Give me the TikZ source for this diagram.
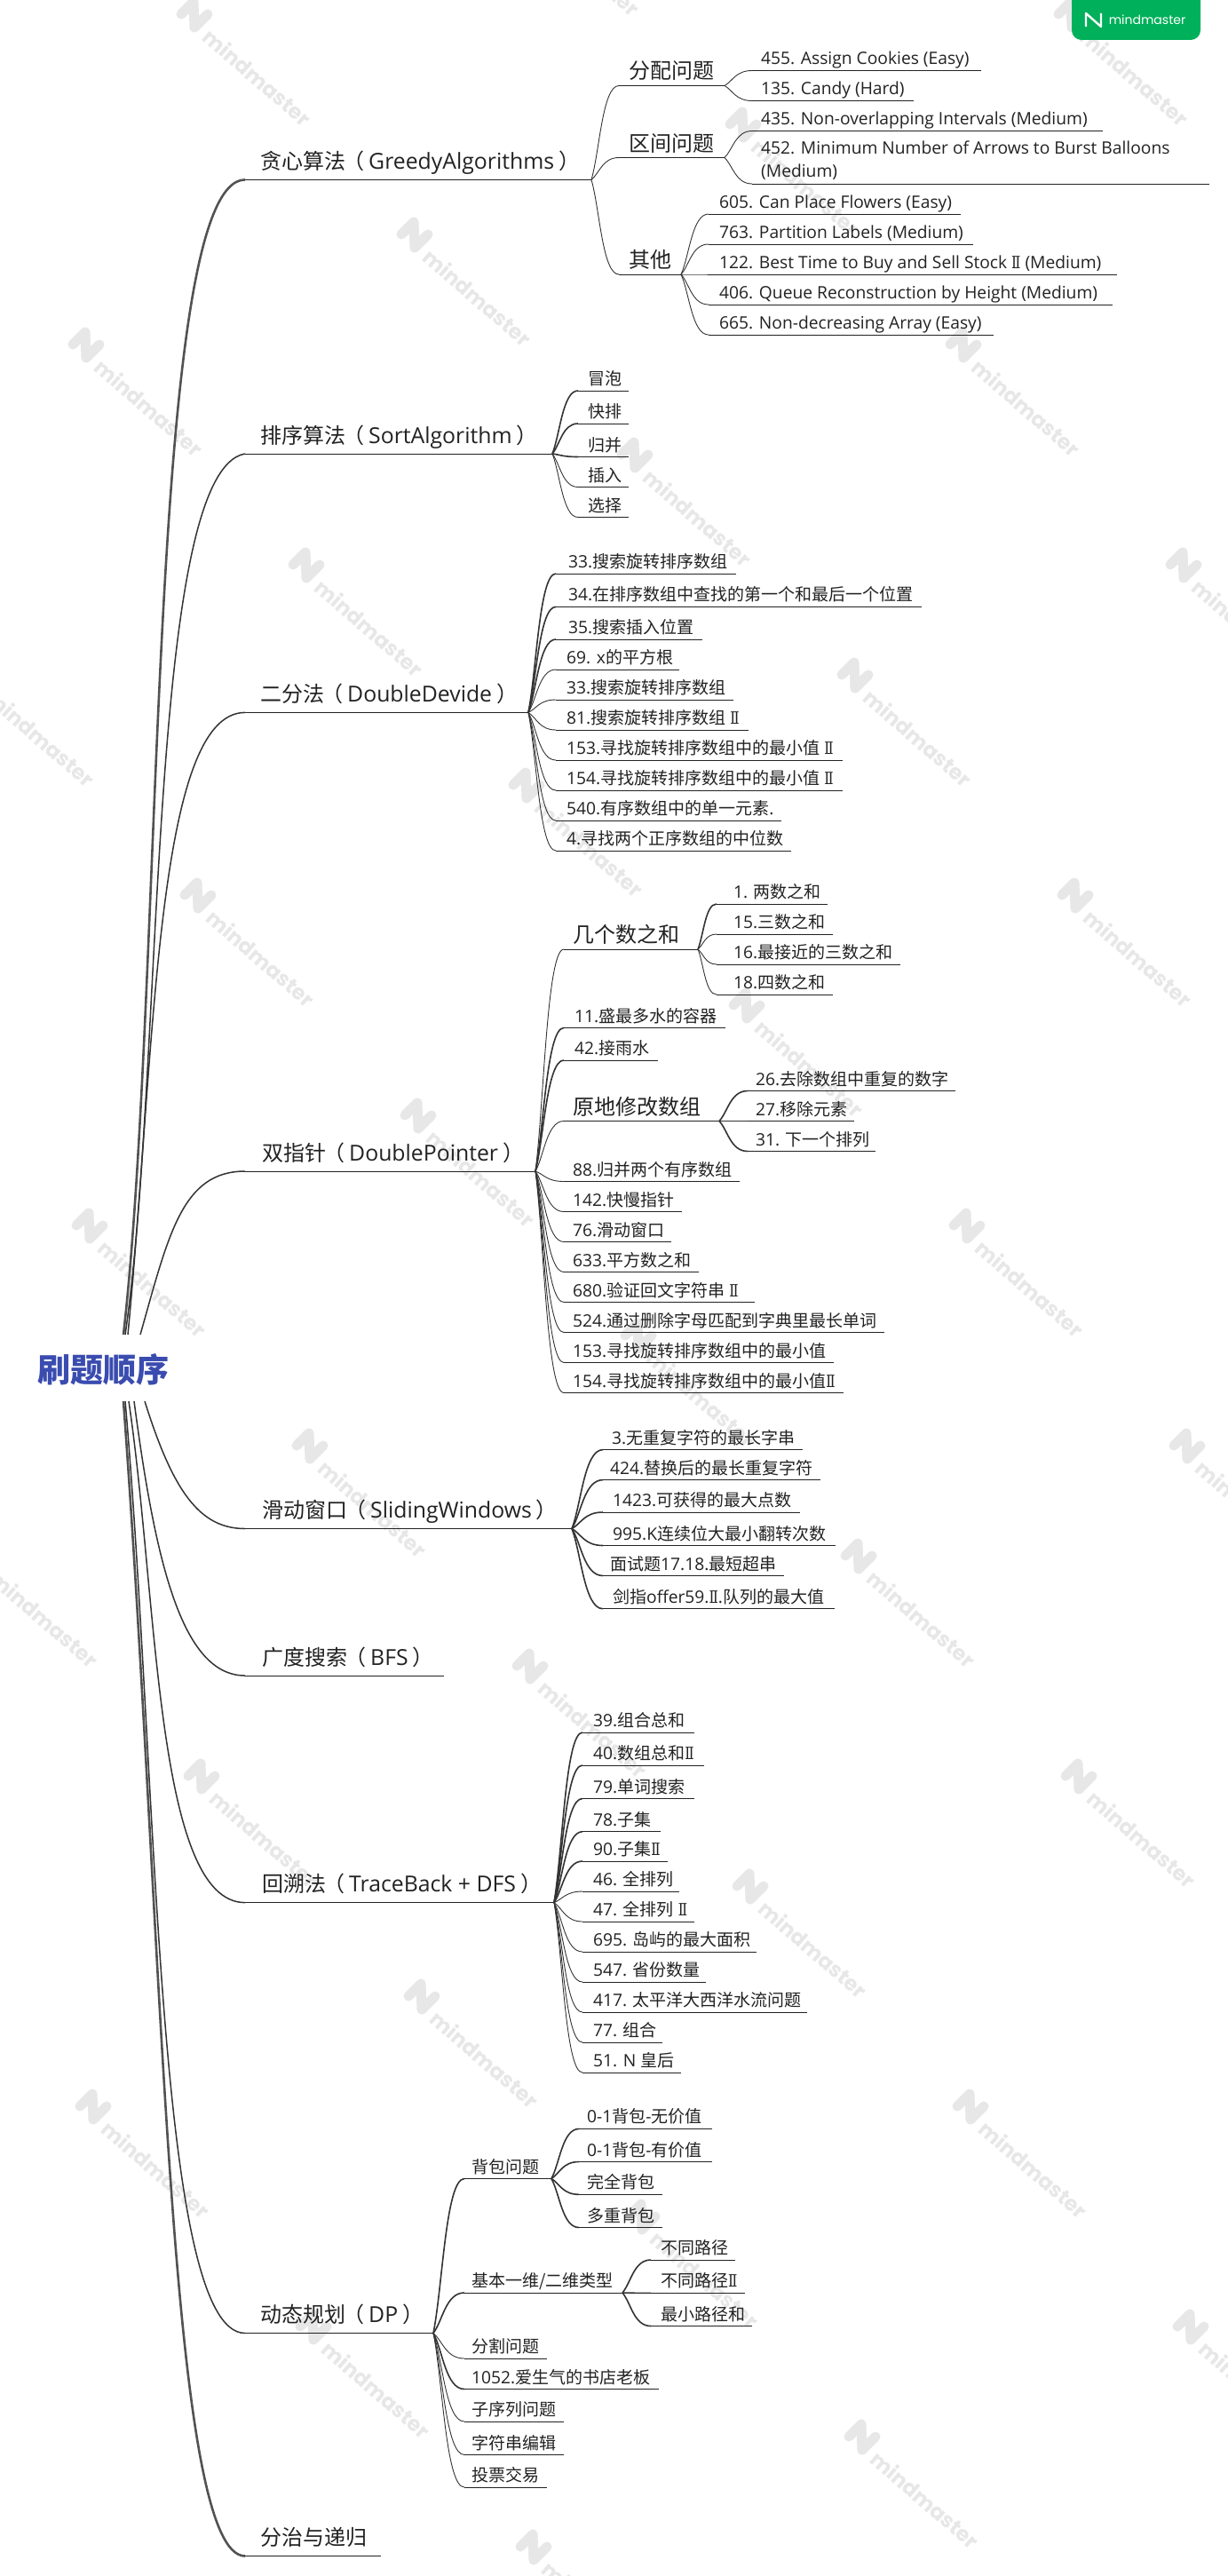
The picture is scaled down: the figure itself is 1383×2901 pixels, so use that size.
\documentclass[tikz,border=0pt]{standalone}
\usepackage{fontspec}
\usetikzlibrary{calc}
\setmainfont{Open Sans}[Scale=1.012]
\newfontfamily\cjk{Noto Sans CJK SC}
\newfontfamily\wmfont{Poppins}
\newfontfamily\rmn{DejaVu Serif}
\newcommand{\C}[1]{{\cjk #1}}
\newcommand{\R}{{\rmn\scalebox{.8}[1]{Ⅱ}}}
\newcommand{\LP}{\kern-3pt\C{（}\kern5pt}
\newcommand{\RP}{\kern5pt\C{）}}
\newcommand{\Gt}[1]{{\fontsize{24.5}{29}\selectfont #1}}
\definecolor{ink}{HTML}{222222}
\definecolor{wire}{HTML}{333333}
\definecolor{wm}{HTML}{E7E7E7}
\definecolor{badge}{HTML}{00B05A}
\definecolor{rootblue}{HTML}{3A4CAF}
\tikzset{
  rule/.style={line width=1pt,draw=ink},
  lk/.style={line width=.9pt,draw=wire},
  lkb/.style={line width=1.6pt,draw=wire},
  trunk/.style={line width=1.5pt,draw=wire},
  trunkb/.style={line width=2.6pt,draw=wire!85!white},
  leaftxt/.style={font=\fontsize{19}{23}\selectfont,text=ink,anchor=base west,inner sep=0pt,yshift=6.5pt},
  midtxt/.style={font=\fontsize{24}{29}\selectfont,text=ink,anchor=base west,inner sep=0pt,yshift=7.5pt},
  toptxt/.style={font=\fontsize{24}{29}\selectfont,text=ink,anchor=base west,inner sep=0pt,yshift=12pt},
}
\newcommand{\itm}[9][lk]{%
  \coordinate (#2-s) at (#5,#6);
  \coordinate (#2-e) at (#7,#6);
  \node[#4] (#2) at (#8,#6) {#9};
  \draw[rule] (#2-s) -- (#2-e);
  \draw[#1] let \p1=(#3-e),\p2=(#2-s) in (#3-e) .. controls ({\x1+.3*(\x2-\x1)},{\y1+.3*(\y2-\y1)}) and ({\x1+.4*(\x2-\x1)},\y2) .. (#2-s);
}
\newcommand{\lf}[8][lk]{\itm[#1]{#2}{#3}{leaftxt}{#4}{#5}{#6}{#7}{#8}}
\newcommand{\md}[8][lk]{\itm[#1]{#2}{#3}{midtxt}{#4}{#5}{#6}{#7}{#8}}
\newcommand{\topic}[5]{%
  \coordinate (#1-s) at (276,#2);
  \coordinate (#1-e) at (#3,#2);
  \node[toptxt] (#1) at (#4,#2) {#5};
  \draw[rule] (#1-s) -- (#1-e);
}
\begin{document}
\begin{tikzpicture}[x=1pt,y=-1pt]
\useasboundingbox (0,0) rectangle (1383,2901);
\fill[white] (0,0) rectangle (1383,2901);
\begin{scope}
\clip (0,0) rectangle (1383,2901);
% watermark lattice
\foreach \i in {-4,...,12}{
 \foreach \j in {-4,...,7}{
  \pgfmathsetmacro{\wx}{97+248*\i+370*\j}
  \pgfmathsetmacro{\wy}{388+248*\i-124*\j}
  \pgfmathparse{(\wx>-260 && \wx<1500 && \wy>-220 && \wy<3000) ? 1 : 0}
  \ifnum\pgfmathresult=1
   \begin{scope}[shift={(\wx,\wy)}]
    \draw[wm,line width=11pt,line join=round,line cap=round] (-15,0) -- (-1,-14) -- (0,15) -- (15,0);
   \end{scope}
   \node[text=wm,font=\wmfont\bfseries\fontsize{23.5}{28}\selectfont,rotate=-41,inner sep=0pt] (wm\i\j) at (\wx+71,\wy+71) {mindmaster};
  \fi
 }
}
\fill[badge,rounded corners=11pt] (1207,-20) rectangle (1352,45);
\end{scope}
\draw[white,line width=2.4pt,line join=round] (1223,30) -- (1223,15) -- (1240,30) -- (1240,15);
\node[text=white,font=\wmfont\fontsize{14}{18}\selectfont,inner sep=0pt] (badgetxt) at (1292,22) {mindmaster};

% root
\node[font=\cjk\bfseries\fontsize{37}{42}\selectfont,text=rootblue,inner sep=0pt] (root) at (116.5,1542) {刷题顺序};
\coordinate (rA) at (139,1503);
\coordinate (rB) at (141,1503);
\coordinate (rC) at (144,1503);
\coordinate (rD) at (158,1503);
\coordinate (rE) at (163,1578);
\coordinate (rF) at (151,1578);
\coordinate (rG) at (145,1578);
\coordinate (rH) at (141,1578);
\coordinate (rI) at (139,1578);

% greedy
\topic{g}{202.4}{666}{293}{\C{贪心算法}\LP\Gt{GreedyAlgorithms}\RP}
\draw[trunkb] (rA) .. controls (185,1100) and (165,202.4) .. (g-s);
\md{ga}{g}{697}{96.5}{816}{708}{\C{分配问题}}
\md{gb}{g}{697}{177.5}{816}{708}{\C{区间问题}}
\md{gc}{g}{697}{309}{767}{708}{\C{其他}}
\lf{ga1}{ga}{847}{79.5}{1105}{857}{455. Assign Cookies (Easy)}
\lf{ga2}{ga}{847}{113.5}{1029}{857}{135. Candy (Hard)}
\lf{gb1}{gb}{847}{147.5}{1242}{857}{435. Non-overlapping Intervals (Medium)}
\coordinate (gb2-s) at (847,207);
\coordinate (gb2-e) at (1362,207);
\node[font=\fontsize{19}{26}\selectfont,text=ink,anchor=west,inner sep=0pt,align=left] (gb2) at (857,181) {452. Minimum Number of Arrows to Burst Balloons\\(Medium)};
\draw[rule] (gb2-s) -- (gb2-e);
\draw[lk] let \p1=(gb-e),\p2=(gb2-s) in (gb-e) .. controls ({\x1+.3*(\x2-\x1)},{\y1+.3*(\y2-\y1)}) and ({\x1+.4*(\x2-\x1)},\y2) .. (gb2-s);
\lf{gc1}{gc}{798}{241}{1082}{810}{605. Can Place Flowers (Easy)}
\lf{gc2}{gc}{798}{275}{1096}{810}{763. Partition Labels (Medium)}
\lf{gc3}{gc}{798}{309}{1258}{810}{122. Best Time to Buy and Sell Stock \R{} (Medium)}
\lf{gc4}{gc}{798}{343}{1253}{810}{406. Queue Reconstruction by Height (Medium)}
\lf{gc5}{gc}{798}{377}{1119}{810}{665. Non-decreasing Array (Easy)}

% sort
\topic{s}{511}{622}{293}{\C{排序算法}\LP\Gt{SortAlgorithm}\RP}
\draw[trunk] (rB) .. controls (185,1200) and (165,530) .. (s-s);
\lf[lkb]{s1}{s}{651}{440}{708}{662}{\C{冒泡}}
\lf[lkb]{s2}{s}{651}{477}{708}{662}{\C{快排}}
\lf[lkb]{s3}{s}{651}{514.5}{708}{662}{\C{归并}}
\lf{s4}{s}{651}{548.5}{708}{662}{\C{插入}}
\lf{s5}{s}{651}{582.5}{708}{662}{\C{选择}}

% divide
\topic{d}{802.4}{595}{293}{\C{二分法}\LP\Gt{DoubleDevide}\RP}
\draw[trunk] (rC) .. controls (175,1180) and (175,802.4) .. (d-s);
\lf[lkb]{d1}{d}{626}{646}{829}{640}{33.\C{搜索旋转排序数组}}
\lf[lkb]{d2}{d}{626}{683.4}{1038}{640}{34.\C{在排序数组中查找的第一个和最后一个位置}}
\lf[lkb]{d3}{d}{626}{720}{791}{640}{35.\C{搜索插入位置}}
\lf{d4}{d}{626}{754}{765}{638}{69. x\C{的平方根}}
\lf{d5}{d}{626}{788}{826}{638}{33.\C{搜索旋转排序数组}}
\lf{d6}{d}{626}{822}{843}{638}{81.\C{搜索旋转排序数组} \R}
\lf{d7}{d}{626}{856}{949}{638}{153.\C{寻找旋转排序数组中的最小值} \R}
\lf{d8}{d}{626}{890}{949}{638}{154.\C{寻找旋转排序数组中的最小值} \R}
\lf{d9}{d}{626}{924}{880}{638}{540.\C{有序数组中的单一元素}.}
\lf{d10}{d}{626}{958}{891}{638}{4.\C{寻找两个正序数组的中位数}}

% double pointer
\topic{p}{1319}{603}{295}{\C{双指针}\LP\Gt{DoublePointer}\RP}
\draw[trunk] (rD) .. controls (190,1390) and (205,1319) .. (p-s);
\md{pa}{p}{635}{1069}{786}{645}{\C{几个数之和}}
\lf[lkb]{pa1}{pa}{807}{1018}{932}{826}{1. \C{两数之和}}
\lf{pa2}{pa}{807}{1052}{938}{826}{15.\C{三数之和}}
\lf{pa3}{pa}{807}{1086}{1014}{826}{16.\C{最接近的三数之和}}
\lf{pa4}{pa}{807}{1120}{938}{826}{18.\C{四数之和}}
\lf[lkb]{pb}{p}{635}{1157.5}{817}{647}{11.\C{盛最多水的容器}}
\lf[lkb]{pc}{p}{635}{1194}{741}{647}{42.\C{接雨水}}
\md{pd}{p}{635}{1262.5}{810}{645}{\C{原地修改数组}}
\lf[lkb]{pd1}{pd}{842}{1228.5}{1076}{851}{26.\C{去除数组中重复的数字}}
\lf{pd2}{pd}{842}{1262.5}{962}{851}{27.\C{移除元素}}
\lf[lkb]{pd3}{pd}{842}{1296.5}{986}{851}{31. \C{下一个排列}}
\lf{pe}{p}{635}{1330.5}{833}{645}{88.\C{归并两个有序数组}}
\lf{pf}{p}{635}{1364.5}{768}{645}{142.\C{快慢指针}}
\lf{pg}{p}{635}{1398.5}{756}{645}{76.\C{滑动窗口}}
\lf{ph}{p}{635}{1432.5}{787}{645}{633.\C{平方数之和}}
\lf{pi}{p}{635}{1466.5}{850}{645}{680.\C{验证回文字符串} \R}
\lf{pj}{p}{635}{1500.5}{996}{645}{524.\C{通过删除字母匹配到字典里最长单词}}
\lf{pk}{p}{635}{1534.5}{939}{645}{153.\C{寻找旋转排序数组中的最小值}}
\lf{pl}{p}{635}{1568.5}{950}{645}{154.\C{寻找旋转排序数组中的最小值}\R}

% sliding
\topic{w}{1721.5}{644}{295}{\C{滑动窗口}\LP\Gt{SlidingWindows}\RP}
\draw[trunk] (rE) .. controls (195,1680) and (225,1721.5) .. (w-s);
\lf[lkb]{w1}{w}{679}{1632.6}{904}{689}{3.\C{无重复字符的最长字串}}
\lf[lkb]{w2}{w}{679}{1666.6}{924}{687}{424.\C{替换后的最长重复字符}}
\lf[lkb]{w3}{w}{679}{1703}{901}{690}{1423.\C{可获得的最大点数}}
\lf[lkb]{w4}{w}{679}{1740.5}{941}{690}{995.K\C{连续位大最小翻转次数}}
\lf[lkb]{w5}{w}{679}{1774.5}{883}{687}{\C{面试题}17.18.\C{最短超串}}
\lf[lkb]{w6}{w}{679}{1811.7}{940}{690}{\C{剑指}offer59.\R.\C{队列的最大值}}

% BFS
\topic{b}{1887}{500}{295}{\C{广度搜索}\LP\Gt{BFS}\RP}
\draw[trunk] (rF) .. controls (175,1760) and (205,1887) .. (b-s);

% traceback
\topic{t}{2142.6}{624}{295}{\C{回溯法}\LP\Gt{TraceBack + DFS}\RP}
\draw[trunk] (rG) .. controls (178,1800) and (175,2142.6) .. (t-s);
\lf[lkb]{t1}{t}{656}{1951}{782}{668}{39.\C{组合总和}}
\lf[lkb]{t2}{t}{656}{1988}{793}{668}{40.\C{数组总和}\R}
\lf[lkb]{t3}{t}{656}{2025.5}{782}{668}{79.\C{单词搜索}}
\lf[lkb]{t4}{t}{656}{2062.7}{744}{668}{78.\C{子集}}
\lf[lkb]{t5}{t}{656}{2096}{752}{668}{90.\C{子集}\R}
\lf{t6}{t}{656}{2130}{765}{668}{46. \C{全排列}}
\lf{t7}{t}{656}{2164}{782}{668}{47. \C{全排列} \R}
\lf{t8}{t}{656}{2198}{852}{668}{695. \C{岛屿的最大面积}}
\lf{t9}{t}{656}{2232}{795}{668}{547. \C{省份数量}}
\lf{t10}{t}{656}{2266}{909}{668}{417. \C{太平洋大西洋水流问题}}
\lf{t11}{t}{656}{2300}{746}{668}{77. \C{组合}}
\lf{t12}{t}{656}{2334}{767}{668}{51. N \C{皇后}}

% dp
\topic{k}{2627.5}{488}{293}{\C{动态规划}\LP\Gt{DP}\RP}
\draw[trunk] (rH) .. controls (178,2000) and (175,2627.5) .. (k-s);
\lf[lkb]{ka}{k}{523}{2453.5}{621}{531}{\C{背包问题}}
\lf[lkb]{kb}{k}{523}{2582}{701}{531}{\C{基本一维/二维类型}}
\lf[lkb]{ka1}{ka}{652}{2397.4}{802}{661}{0-1\C{背包}-\C{无价值}}
\lf[lkb]{ka2}{ka}{652}{2434.5}{802}{661}{0-1\C{背包}-\C{有价值}}
\lf[lkb]{ka3}{ka}{652}{2471.3}{746}{661}{\C{完全背包}}
\lf[lkb]{ka4}{ka}{652}{2508.5}{746}{661}{\C{多重背包}}
\lf[lkb]{kb1}{kb}{733}{2545}{828}{744}{\C{不同路径}}
\lf[lkb]{kb2}{kb}{733}{2582.4}{839}{744}{\C{不同路径}\R}
\lf[lkb]{kb3}{kb}{733}{2619.5}{847}{744}{\C{最小路径和}}
\lf{kc}{k}{523}{2656}{616}{531}{\C{分割问题}}
\lf[lkb]{kd}{k}{523}{2690.5}{742}{531}{1052.\C{爱生气的书店老板}}
\lf{ke}{k}{523}{2727}{635}{531}{\C{子序列问题}}
\lf{kf}{k}{523}{2764.5}{635}{531}{\C{字符串编辑}}
\lf{kg}{k}{523}{2801}{616}{531}{\C{投票交易}}

% divide and conquer
\topic{f}{2878.5}{429}{293}{\C{分治与递归}}
\draw[trunkb] (rI) .. controls (185,2200) and (190,2878.5) .. (f-s);
\end{tikzpicture}
\end{document}
